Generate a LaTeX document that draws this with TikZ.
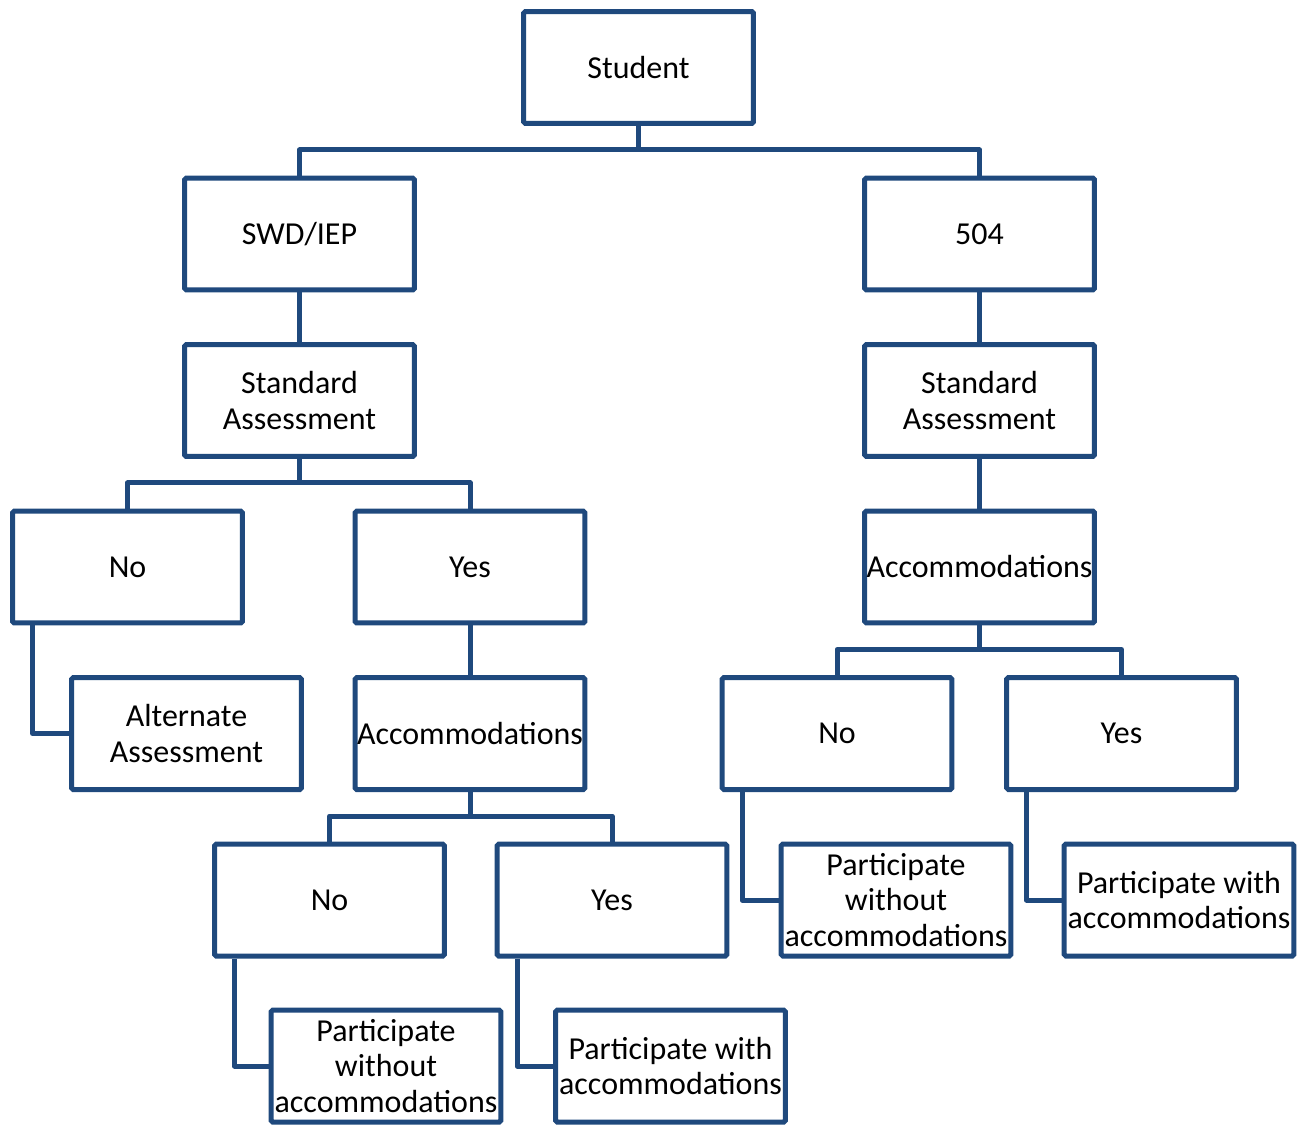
\documentclass[tikz,border=0pt]{standalone}
\usepackage{fontspec}
\setmainfont{Carlito}
\usepackage{tikz}
\usetikzlibrary{positioning}
\definecolor{boxblue}{HTML}{1F497D}

\tikzset{
  box/.style={draw=boxblue, line width=5*0.02cm, rounded corners=1pt, fill=white,
    minimum width=4.6cm, minimum height=2.24cm, inner sep=0pt, align=center,
    font=\fontsize{18.2}{20}\selectfont},
  link/.style={draw=boxblue, line width=5*0.02cm, line join=round}
}

\begin{document}
\begin{tikzpicture}[x=0.02cm, y=-0.02cm]
  \useasboundingbox (0,0) rectangle (1301,1126);
  % top levels
  \node[box] (student) at (638.5,67.5) {Student};
  \node[box] (swd) at (299.5,234) {SWD/IEP};
  \node[box] (sec) at (979.5,234) {504};
  \node[box] (stdl) at (299.5,400.5) {Standard\\Assessment};
  \node[box] (stdr) at (979.5,400.5) {Standard\\Assessment};
  % left branch
  \node[box] (nol) at (127.5,567) {No};
  \node[box] (yesl) at (470,567) {Yes};
  \node[box] (alt) at (186.5,733.5) {Alternate\\Assessment};
  \node[box] (accl) at (470,733.5) {Accommodations};
  \node[box] (nob) at (329.5,900) {No};
  \node[box] (yesb) at (612,900) {Yes};
  \node[box] (withoutb) at (386,1066) {Participate\\without\\accommodations};
  \node[box] (withb) at (670.5,1066) {Participate with\\accommodations};
  % right branch
  \node[box] (accr) at (979.5,567) {Accommodations};
  \node[box] (nor) at (837,733.5) {No};
  \node[box] (yesr) at (1121.5,733.5) {Yes};
  \node[box] (withoutr) at (896,900) {Participate\\without\\accommodations};
  \node[box] (withr) at (1179,900) {Participate with\\accommodations};

  % connectors
  \draw[link] (student.south) -- ++(0,24) -| (swd.north);
  \draw[link] (student.south) -- ++(0,24) -| (sec.north);
  \draw[link] (swd) -- (stdl);
  \draw[link] (sec) -- (stdr);
  \draw[link] (stdl.south) -- ++(0,24) -| (nol.north);
  \draw[link] (stdl.south) -- ++(0,24) -| (yesl.north);
  \draw[link] (stdr) -- (accr);
  \draw[link] (yesl) -- (accl);
  \draw[link] (accl.south) -- ++(0,24) -| (nob.north);
  \draw[link] (accl.south) -- ++(0,24) -| (yesb.north);
  \draw[link] (accr.south) -- ++(0,24) -| (nor.north);
  \draw[link] (accr.south) -- ++(0,24) -| (yesr.north);
  \draw[link] ([xshift=0.45cm]nol.south west) |- (alt.west);
  \draw[link] ([xshift=0.45cm]nob.south west) |- (withoutb.west);
  \draw[link] ([xshift=0.45cm]yesb.south west) |- (withb.west);
  \draw[link] ([xshift=0.45cm]nor.south west) |- (withoutr.west);
  \draw[link] ([xshift=0.45cm]yesr.south west) |- (withr.west);
\end{tikzpicture}
\end{document}
